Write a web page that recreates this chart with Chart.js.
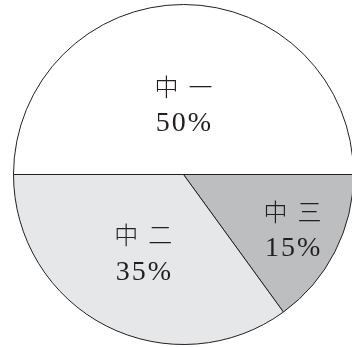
<!DOCTYPE html>
<html>
<head>
<meta charset="utf-8">
<script src="https://cdn.jsdelivr.net/npm/chart.js@4"></script>
<style>
  html, body { margin: 0; padding: 0; background: #fff; overflow: hidden; }
  #wrap { width: 360px; height: 347px; }
</style>
</head>
<body>
<div id="wrap"><canvas id="myChart" width="360" height="347"></canvas></div>
<script>
// order follows the drawing: starts at 9 o'clock, goes clockwise
const grades = ['中一', '中三', '中二'];
const shares = [50, 15, 35];
const sliceColors = ['#ffffff', '#bdbec0', '#e6e7e8'];

// where each label sits, as a fraction of the radius along the slice middle
const labelDepth = [0.41, 0.72, 0.52];

const sliceLabels = {
    id: 'sliceLabels',
    afterDatasetsDraw(chart) {
        const c = chart.ctx;
        const arcs = chart.getDatasetMeta(0).data;
        c.save();
        c.fillStyle = '#231f20';
        c.textAlign = 'center';
        c.textBaseline = 'middle';
        arcs.forEach((arc, i) => {
            const p = arc.getProps(['x', 'y', 'startAngle', 'endAngle', 'outerRadius'], true);
            const mid = (p.startAngle + p.endAngle) / 2;
            const r = p.outerRadius * labelDepth[i];
            const x = p.x + Math.cos(mid) * r;
            const y = p.y + Math.sin(mid) * r;

            c.font = '300 24px "Noto Sans CJK SC"';
            c.letterSpacing = '10px';
            c.fillText(grades[i], x + 5, y - 18);

            c.font = '28px "Liberation Serif"';
            c.letterSpacing = '2px';
            c.fillText(shares[i] + '%', x + 1, y + 19);
        });
        c.restore();
    }
};

const ctx = document.getElementById('myChart');

new Chart(ctx, {
    type: 'pie',
    data: {
        labels: grades,
        datasets: [{
            data: shares,
            backgroundColor: sliceColors,
            borderColor: '#231f20',
            borderWidth: 1
        }]
    },
    options: {
        responsive: false,
        animation: false,
        rotation: -90,
        layout: { padding: { left: 13, right: 6, top: 4, bottom: 2 } },
        plugins: {
            legend: { display: false },
            tooltip: { enabled: false }
        }
    },
    plugins: [sliceLabels]
});
</script>
</body>
</html>
